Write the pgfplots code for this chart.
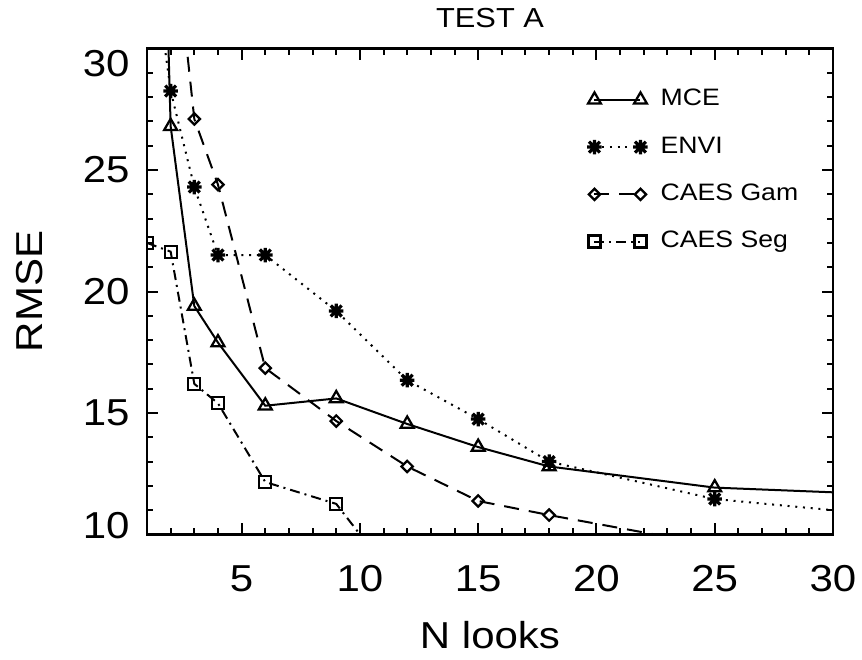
\documentclass[border=0pt]{standalone}
\usepackage{fontspec}
\setmainfont{Liberation Sans}[FakeStretch=1.12]
\usepackage{pgfplots}
\pgfplotsset{compat=1.18}

% IDL-like asterisk: four strokes
\pgfdeclareplotmark{idlast}{%
  \pgfpathmoveto{\pgfqpoint{-\pgfplotmarksize}{0pt}}%
  \pgfpathlineto{\pgfqpoint{\pgfplotmarksize}{0pt}}%
  \pgfpathmoveto{\pgfqpoint{0pt}{-\pgfplotmarksize}}%
  \pgfpathlineto{\pgfqpoint{0pt}{\pgfplotmarksize}}%
  \pgfpathmoveto{\pgfqpoint{-0.75\pgfplotmarksize}{-0.75\pgfplotmarksize}}%
  \pgfpathlineto{\pgfqpoint{0.75\pgfplotmarksize}{0.75\pgfplotmarksize}}%
  \pgfpathmoveto{\pgfqpoint{-0.75\pgfplotmarksize}{0.75\pgfplotmarksize}}%
  \pgfpathlineto{\pgfqpoint{0.75\pgfplotmarksize}{-0.75\pgfplotmarksize}}%
  \pgfusepathqstroke}

\begin{document}
\begin{tikzpicture}
\useasboundingbox (-58.8pt,-49.8pt) rectangle (286pt,213.8pt);
\begin{axis}[
    scale only axis,
    width=274.4pt, height=194.4pt,
    xmin=1, xmax=30, ymin=10, ymax=30,
    xtick={5,10,...,30},
    minor xtick={2,3,...,29},
    ytick={10,15,...,30},
    yticklabels={\raisebox{3.6pt}[\height][\depth]{10},15,20,25,\raisebox{-6pt}[\height][\depth]{30}},
    minor ytick={11,12,...,29},
    tick align=inside,
    major tick length=4.5pt,
    minor tick length=2.5pt,
    tick style={line width=0.8pt, black},
    axis line style={line width=1.1pt},
    /pgf/number format/assume math mode=true,
    tick label style={font=\fontsize{15}{18}\selectfont, inner sep=0pt},
    xticklabel shift=12.2pt,
    yticklabel shift=6.8pt,
    label style={font=\fontsize{15}{18}\selectfont, inner sep=0pt},
    xlabel={N looks},
    xlabel style={at={(axis description cs:0.5,-0.2335)}, anchor=base},
    ylabel={RMSE},
    ylabel style={at={(axis description cs:-0.1516,0.5)}, anchor=south},
    title={TEST A},
    every axis title shift=0pt,
    title style={at={(axis description cs:0.5,1.0442)}, anchor=base, inner sep=0pt,
                 font=\fontsize{11}{13}\selectfont},
    clip marker paths=true,
    every axis plot/.append style={line width=0.8pt, black},
    legend image code/.code={\draw[#1] plot coordinates {(0pt,0pt) (18.4pt,0pt)};},
    legend style={at={(rel axis cs:0.641,0.919)}, anchor=north west,
                  draw=none, fill=none, inner sep=0pt,
                  font=\fontsize{9.5}{11}\selectfont,
                  row sep=9.7pt,
                  nodes={inner sep=0pt, text height=7pt, text depth=2.2pt},
                  /tikz/every odd column/.append style={column sep=5.2pt}},
    legend cell align=left,
]
\addplot[solid, mark=triangle, mark size=3pt, mark options={solid, line width=0.9pt}]
    coordinates {(1,62) (2,26.8) (3,19.4) (4,17.9) (6,15.3) (9,15.6) (12,14.55)
                 (15,13.6) (18,12.8) (25,11.93) (40,11.35)};
\addlegendentry{MCE}
\addplot[dash pattern=on 0.8pt off 2.3pt, mark=idlast, mark size=2.9pt, mark options={solid, line width=1.3pt}]
    coordinates {(1,35.5) (2,28.25) (3,24.3) (4,21.5) (6,21.5) (9,19.2) (12,16.35)
                 (15,14.75) (18,13.0) (25,11.46) (40,10.08)};
\addlegendentry{ENVI}
\addplot[dash pattern=on 6pt off 4pt, mark=square, mark size=1.6pt, mark options={solid, rotate=45, line width=0.9pt}]
    coordinates {(1,45) (2,36.2) (3,27.1) (4,24.4) (6,16.85) (9,14.67) (12,12.8)
                 (15,11.38) (18,10.8) (25,9.55) (40,8.5)};
\addlegendentry{CAES Gam}
\addplot[dash pattern=on 4pt off 2pt on 0.8pt off 2pt, mark=square, mark size=2.4pt, mark options={solid, line width=0.9pt}]
    coordinates {(1,22.0) (2,21.64) (3,16.2) (4,15.4) (6,12.16) (9,11.26) (12,7.5)};
\addlegendentry{CAES Seg}
\end{axis}
\end{tikzpicture}
\end{document}
